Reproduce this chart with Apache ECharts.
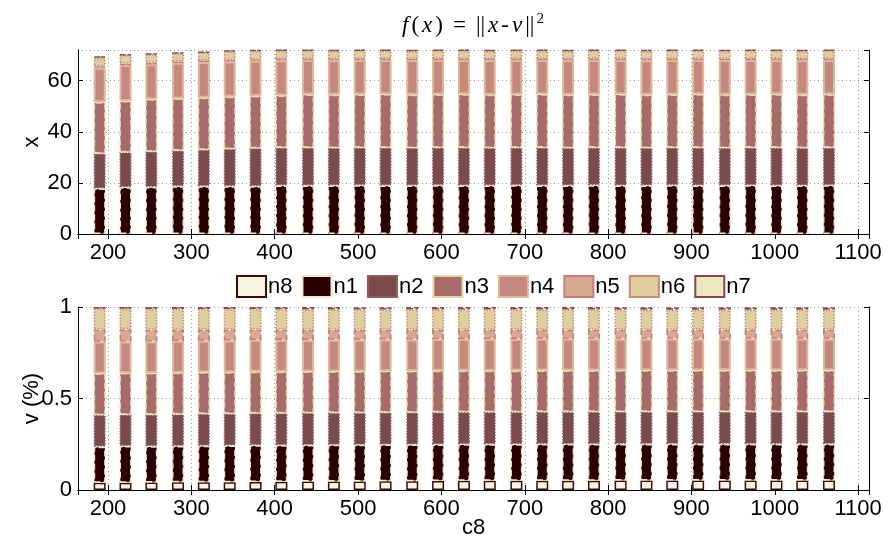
<!DOCTYPE html>
<html>
<head>
<meta charset="utf-8">
<script src="https://cdn.jsdelivr.net/npm/echarts@6/dist/echarts.min.js"></script>
<style>
  html, body {margin: 0; padding: 0; background: #fff;}
  #chart {width: 889px; height: 543px;}
</style>
</head>
<body>
<div id="chart"></div>
<script>
  /******************/
  //region    //data

  let xPos = [190, 221, 252, 284, 315, 346, 377, 408, 440, 471, 502, 533, 565, 596, 627,
    658, 690, 721, 752, 783, 815, 846, 877, 908, 940, 971, 1002, 1033, 1065];

  let names = ['n8', 'n1', 'n2', 'n3', 'n4', 'n5', 'n6', 'n7'];

  // top panel (x)
  let topN8 = [0, 0, 0, 0, 0, 0, 0, 0, 0, 0, 0, 0, 0, 0, 0, 0, 0, 0, 0, 0, 0, 0, 0, 0, 0, 0, 0, 0, 0];
  let topN1 = [17.8, 18.3, 18.4, 18.7, 18.7, 18.7, 18.7, 19.0, 19.0, 19.0, 19.1, 19.0, 19.0, 19.1, 19.0,
    19.0, 19.1, 19.0, 19.0, 19.1, 19.0, 19.0, 19.1, 19.0, 19.0, 19.1, 19.0, 19.0, 19.1];
  let topN2 = [13.7, 13.7, 13.9, 14.0, 14.3, 14.6, 14.9, 14.8, 14.8, 14.7, 14.7, 14.8, 14.7, 14.7, 14.8,
    14.7, 14.7, 14.8, 14.7, 14.7, 14.8, 14.7, 14.7, 14.8, 14.7, 14.7, 14.8, 14.7, 14.7];
  let topN3 = [20.1, 20.0, 20.4, 20.3, 20.3, 20.4, 20.4, 20.4, 20.8, 20.8, 20.8, 20.9, 20.8, 20.8, 20.9,
    20.8, 20.8, 20.9, 20.8, 20.8, 20.9, 20.8, 20.8, 20.9, 20.8, 20.8, 20.9, 20.8, 20.8];
  let topN4 = [13.5, 14.1, 13.7, 14.0, 14.0, 13.8, 13.8, 13.8, 13.5, 13.5, 13.5, 13.4, 13.5, 13.5, 13.4,
    13.5, 13.5, 13.4, 13.5, 13.5, 13.4, 13.5, 13.5, 13.4, 13.5, 13.5, 13.4, 13.5, 13.5];
  let topN5 = [0.5, 0.5, 0.5, 0.5, 0.5, 0.5, 0.5, 0.5, 0.5, 0.5, 0.5, 0.5, 0.5, 0.5, 0.5,
    0.5, 0.5, 0.5, 0.5, 0.5, 0.5, 0.5, 0.5, 0.5, 0.5, 0.5, 0.5, 0.5, 0.5];
  let topN6 = [3.4, 3.4, 3.4, 3.2, 3.2, 3.4, 3.3, 3.2, 3.1, 3.1, 3.1, 3.1, 3.1, 3.1, 3.1,
    3.1, 3.1, 3.1, 3.1, 3.1, 3.1, 3.1, 3.1, 3.1, 3.1, 3.1, 3.1, 3.1, 3.1];
  let topN7 = [0.5, 0.3, 0.3, 0.3, 0.3, 0.4, 0.4, 0.4, 0.5, 0.5, 0.5, 0.5, 0.5, 0.5, 0.5,
    0.5, 0.5, 0.5, 0.5, 0.5, 0.5, 0.5, 0.5, 0.5, 0.5, 0.5, 0.5, 0.5, 0.5];

  // bottom panel (v %)
  let botN8 = [0.040, 0.040, 0.041, 0.042, 0.042, 0.043, 0.044, 0.045, 0.046, 0.046, 0.047, 0.048, 0.048, 0.049, 0.050,
    0.050, 0.050, 0.051, 0.051, 0.051, 0.052, 0.052, 0.052, 0.052, 0.052, 0.052, 0.052, 0.052, 0.052];
  let botN1 = [0.197, 0.200, 0.198, 0.199, 0.200, 0.200, 0.201, 0.200, 0.200, 0.201, 0.200, 0.200, 0.200, 0.200, 0.200,
    0.200, 0.200, 0.200, 0.200, 0.200, 0.200, 0.200, 0.200, 0.200, 0.200, 0.200, 0.200, 0.200, 0.200];
  let botN2 = [0.173, 0.172, 0.173, 0.173, 0.174, 0.174, 0.174, 0.175, 0.175, 0.175, 0.175, 0.176, 0.176, 0.176, 0.176,
    0.176, 0.176, 0.176, 0.176, 0.176, 0.176, 0.176, 0.176, 0.176, 0.176, 0.176, 0.176, 0.176, 0.176];
  let botN3 = [0.227, 0.227, 0.227, 0.227, 0.227, 0.227, 0.227, 0.226, 0.226, 0.226, 0.226, 0.226, 0.226, 0.226, 0.226,
    0.226, 0.226, 0.226, 0.226, 0.226, 0.226, 0.226, 0.226, 0.226, 0.226, 0.226, 0.226, 0.226, 0.226];
  let botN4 = [0.173, 0.173, 0.173, 0.173, 0.173, 0.173, 0.173, 0.173, 0.173, 0.173, 0.173, 0.173, 0.173, 0.173, 0.173,
    0.173, 0.173, 0.173, 0.173, 0.173, 0.173, 0.173, 0.173, 0.173, 0.173, 0.173, 0.173, 0.173, 0.173];
  let botN5 = [0.067, 0.066, 0.064, 0.062, 0.061, 0.060, 0.058, 0.057, 0.056, 0.055, 0.054, 0.053, 0.053, 0.052, 0.051,
    0.051, 0.051, 0.050, 0.050, 0.050, 0.049, 0.049, 0.049, 0.049, 0.049, 0.049, 0.049, 0.049, 0.049];
  let botN6 = [0.113, 0.112, 0.113, 0.113, 0.112, 0.112, 0.112, 0.112, 0.111, 0.111, 0.111, 0.110, 0.110, 0.110, 0.110,
    0.110, 0.110, 0.110, 0.110, 0.110, 0.109, 0.109, 0.109, 0.109, 0.109, 0.109, 0.109, 0.109, 0.109];
  let botN7 = [0.010, 0.010, 0.011, 0.011, 0.011, 0.011, 0.011, 0.012, 0.013, 0.013, 0.013, 0.013, 0.014, 0.014, 0.014,
    0.014, 0.014, 0.014, 0.014, 0.014, 0.014, 0.014, 0.014, 0.014, 0.014, 0.014, 0.014, 0.014, 0.014];

  //endregion

  /******************/
  //region    //styles

  let styles = {
    n8: {color: '#f7f5e2', borderColor: '#3d0a0a', borderType: 'solid', borderWidth: 1.5},
    n1: {color: '#2c0000', borderColor: '#efe8cc', borderType: 'dashed', borderWidth: 1.5},
    n2: {color: '#7b4a4a', borderColor: '#8e5c5a', borderType: 'dotted', borderWidth: 1.5},
    n3: {color: '#a86b6b', borderColor: '#e6d6a6', borderType: 'dashed', borderWidth: 1.5},
    n4: {color: '#c6877f', borderColor: '#dcb898', borderType: 'solid', borderWidth: 2},
    n5: {color: '#d5aa8f', borderColor: '#c97a7a', borderType: 'dashed', borderWidth: 1.5},
    n6: {color: '#dfcf9f', borderColor: '#c38a78', borderType: 'dotted', borderWidth: 1.5},
    n7: {color: '#ece8c0', borderColor: '#8a4848', borderType: 'dashed', borderWidth: 1.5},
  };

  let font = 'Liberation Sans, Arial, sans-serif';
  let gridLine = {show: true, lineStyle: {color: '#9a9a9a', type: [1, 3], width: 1}};
  let tick = {show: true, inside: true, length: 5, lineStyle: {color: '#000'}};
  let axLine = {show: true, lineStyle: {color: '#000', width: 1}};
  let plain = (v) => String(v);

  //endregion

  /******************/
  //region    //build

  // value first so that the stack goes on the y values
  function pairs(vals) {
    return vals.map((v, i) => [v, xPos[i]]);
  }

  function makeSeries(idx, arrs) {
    return names.map((n, k) => ({
      name: n,
      type: 'bar',
      stack: 's' + idx,
      xAxisIndex: idx * 2,
      yAxisIndex: idx * 2,
      barWidth: 12,
      encode: {x: 1, y: 0},
      data: pairs(arrs[k]),
      itemStyle: styles[n],
      emphasis: {disabled: true},
    }));
  }

  function xAxes(gi, showName) {
    let base = {
      type: 'value', gridIndex: gi, min: 164, max: 1113, splitNumber: 9,
      axisLine: axLine, axisTick: tick,
    };
    return [
      Object.assign({}, base, {
        position: 'bottom',
        splitLine: gridLine,
        axisLabel: {show: true, fontSize: 22, color: '#000', fontFamily: font, margin: 8,
          showMinLabel: false, showMaxLabel: false, formatter: plain},
        name: showName ? 'c8' : '', nameLocation: 'middle', nameGap: 27, nameMoveOverlap: false,
        nameTextStyle: {fontSize: 22, color: '#000', fontFamily: font},
      }),
      Object.assign({}, base, {
        position: 'top', splitLine: {show: false}, axisLabel: {show: false},
      }),
    ];
  }

  function yAxes(gi, max, interval, name) {
    let base = {
      type: 'value', gridIndex: gi, min: 0, max: max, interval: interval,
      axisLine: axLine, axisTick: tick,
    };
    return [
      Object.assign({}, base, {
        position: 'left',
        splitLine: gridLine,
        axisLabel: {fontSize: 22, color: '#000', fontFamily: font, margin: 6,
          showMaxLabel: max === 1, formatter: plain},
        name: name, nameLocation: 'middle', nameGap: 35, nameMoveOverlap: false,
        nameTextStyle: {fontSize: 22, color: '#000', fontFamily: font},
      }),
      Object.assign({}, base, {
        position: 'right', splitLine: {show: false}, axisLabel: {show: false},
      }),
    ];
  }

  let chart = echarts.init(document.getElementById('chart'));

  let serif = 'Liberation Serif, DejaVu Serif, serif';
  let it = {fontFamily: serif, fontStyle: 'italic', fontWeight: 'normal', fontSize: 23, color: '#000', padding: [0, 2]};
  let rm = {fontFamily: serif, fontWeight: 'normal', fontSize: 23, color: '#000', padding: [0, 1]};
  let option = {
    animation: false,
    backgroundColor: '#fff',
    title: {
      text: '{i|f}{r|(}{i|x}{r|)}{e|=}{r|||}{i|x}{r|-}{i|v}{r|||}{s|2}',
      left: 395,
      top: 7,
      textStyle: {
        rich: {
          i: it,
          r: rm,
          e: Object.assign({}, rm, {padding: [0, 9]}),
          s: {fontFamily: serif, fontWeight: 'normal', fontSize: 15, color: '#000', padding: [0, 0, 13, 1]},
        },
      },
    },
    legend: {
      data: names,
      left: 231,
      top: 270,
      itemWidth: 29,
      itemHeight: 21,
      itemGap: 9,
      icon: 'rect',
      textStyle: {fontSize: 22, color: '#000', fontFamily: font, padding: [0, 0, 0, -3]},
    },
    grid: [
      {left: 78, right: 20, top: 50, height: 184},
      {left: 78, right: 20, top: 307, height: 183},
    ],
    xAxis: xAxes(0, false).concat(xAxes(1, true)),
    yAxis: yAxes(0, 72, 20, 'x').concat(yAxes(1, 1, 0.5, 'v (%)')),
    series: makeSeries(0, [topN8, topN1, topN2, topN3, topN4, topN5, topN6, topN7])
      .concat(makeSeries(1, [botN8, botN1, botN2, botN3, botN4, botN5, botN6, botN7])),
  };

  chart.setOption(option);

  //endregion
</script>
</body>
</html>
